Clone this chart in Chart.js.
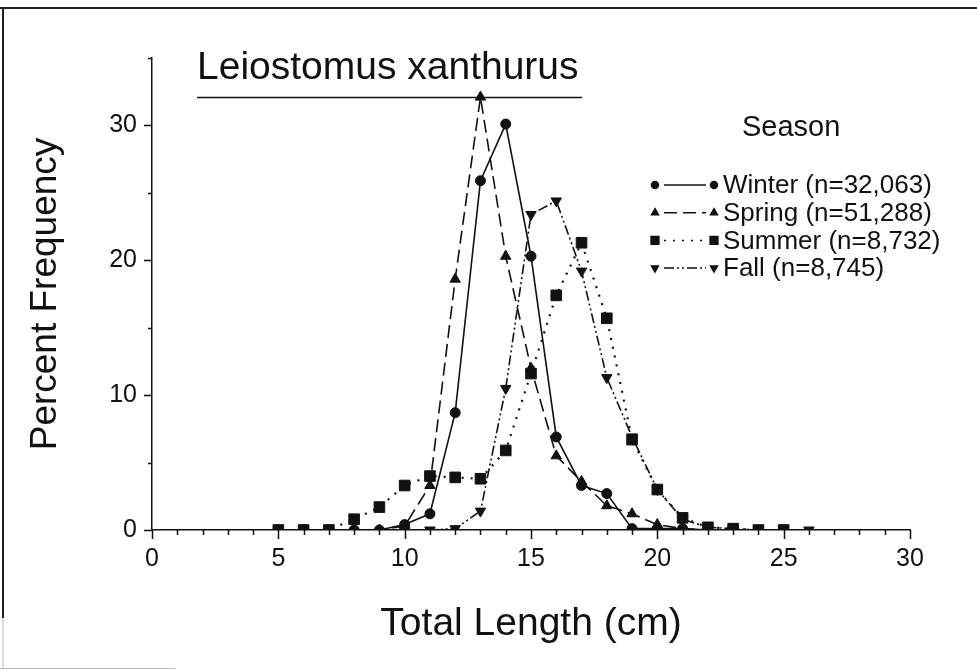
<!DOCTYPE html>
<html>
<head>
<meta charset="utf-8">
<title>Leiostomus xanthurus - length frequency by season</title>
<script src="https://cdn.jsdelivr.net/npm/chart.js@4.4.1/dist/chart.umd.min.js"></script>
<style>
  html, body { margin: 0; padding: 0; background: #fff; }
  #wrap { width: 977px; height: 670px; }
</style>
</head>
<body>
<div id="wrap"><canvas id="lengthChart" width="977" height="670"></canvas></div>
<script>
// Total length classes (cm)
const lengthClasses = [5, 6, 7, 8, 9, 10, 11, 12, 13, 14, 15, 16, 17, 18, 19, 20, 21, 22, 23, 24, 25, 26];

// Percent frequency per season (null = no point plotted)
const winterPct = [0, 0, 0, 0, 0, 0.4, 1.2, 8.7, 25.9, 30.1, 20.3, 6.9, 3.3, 2.7, 0.1, 0.1, 0.1, 0, null, null, null, null];
const springPct = [0, 0, 0, 0, 0, 0.3, 3.3, 18.6, 32.1, 20.3, 12.0, 5.5, 3.6, 1.8, 1.2, 0.4, 0.1, 0, null, null, null, null];
const summerPct = [0, 0, 0, 0.8, 1.7, 3.3, 4.0, 3.9, 3.8, 5.9, 11.6, 17.4, 21.3, 15.7, 6.7, 3.0, 0.9, 0.2, 0.1, 0, 0, null];
const fallPct   = [null, null, null, null, null, 0, 0, 0.1, 1.4, 10.5, 23.4, 24.4, 19.2, 11.3, 6.9, 3.0, 0.8, 0.2, 0.1, 0, 0, 0];

const seasons = ['Winter', 'Spring', 'Summer', 'Fall'];
const sampleSizes = ['32,063', '51,288', '8,732', '8,745'];

const xTickLabels = [0, 5, 10, 15, 20, 25, 30];
const yTickLabels = [0, 10, 20, 30];

const ink = '#111';
const fontFamily = '"Liberation Sans", Arial, sans-serif';

function toPoints(values) {
    return lengthClasses
        .map((len, i) => values[i] === null ? null : { x: len, y: values[i] })
        .filter(p => p !== null);
}

const styles = [
    { dash: [], pointStyle: 'circle', radius: 5, rotation: 0, legendRadius: 3.5 },
    { dash: [13, 6], pointStyle: 'triangle', radius: 6, rotation: 0, legendRadius: 4 },
    { dash: [2, 7], pointStyle: 'rect', radius: 7.5, rotation: 0, legendRadius: 5.5 },
    { dash: [10, 3, 2, 3, 2, 3], pointStyle: 'triangle', radius: 6, rotation: 180, legendRadius: 4 }
];

const seriesValues = [winterPct, springPct, summerPct, fallPct];

const datasets = seriesValues.map((vals, i) => ({
    label: seasons[i] + ' (n=' + sampleSizes[i] + ')',
    data: toPoints(vals),
    borderColor: ink,
    backgroundColor: ink,
    borderWidth: i === 2 ? 2.2 : 1.6,
    borderDash: styles[i].dash,
    pointStyle: styles[i].pointStyle,
    pointRadius: styles[i].radius,
    pointRotation: styles[i].rotation,
    pointBackgroundColor: ink,
    pointBorderColor: ink,
    pointBorderWidth: 1,
    tension: 0,
    fill: false
}));

// Frame, title, custom ticks and legend
const decorations = {
    id: 'decorations',
    beforeDraw(chart) {
        const ctx = chart.ctx;
        ctx.save();
        ctx.fillStyle = '#fff';
        ctx.fillRect(0, 0, chart.width, chart.height);
        ctx.strokeStyle = '#222';
        ctx.lineWidth = 2;
        ctx.beginPath();
        ctx.moveTo(0, 8); ctx.lineTo(977, 8);
        ctx.moveTo(3, 8); ctx.lineTo(3, 618);
        ctx.stroke();
        ctx.strokeStyle = '#bbb';
        ctx.lineWidth = 1;
        ctx.beginPath();
        ctx.moveTo(3, 618); ctx.lineTo(3, 668);
        ctx.moveTo(0, 668.5); ctx.lineTo(175, 668.5);
        ctx.stroke();
        ctx.restore();
    },
    afterDraw(chart) {
        const { ctx, scales: { x, y } } = chart;
        ctx.save();
        ctx.strokeStyle = ink;
        ctx.lineWidth = 1.5;
        ctx.setLineDash([]);

        // x ticks: minor every 1 cm, major every 5 cm
        ctx.beginPath();
        for (let v = x.min; v <= x.max; v += 1) {
            const px = Math.round(x.getPixelForValue(v)) + 0.5;
            const len = v % 5 === 0 ? 9 : 5;
            ctx.moveTo(px, y.bottom);
            ctx.lineTo(px, y.bottom + len);
        }
        // y ticks: minor every 5, major every 10
        for (let v = y.min; v <= y.max; v += 5) {
            const py = Math.round(y.getPixelForValue(v)) + 0.5;
            const len = v % 10 === 0 ? 8 : 4;
            ctx.moveTo(x.left - len, py);
            ctx.lineTo(x.left, py);
        }
        ctx.stroke();

        // title with underline
        ctx.fillStyle = ink;
        ctx.font = '39px ' + fontFamily;
        ctx.textAlign = 'left';
        ctx.textBaseline = 'alphabetic';
        ctx.fillText('Leiostomus xanthurus', 197, 79);
        ctx.beginPath();
        ctx.moveTo(197, 97.5);
        ctx.lineTo(582, 97.5);
        ctx.stroke();

        // legend
        ctx.font = '29px ' + fontFamily;
        ctx.textBaseline = 'middle';
        ctx.fillText('Season', 742, 128);
        ctx.font = '26px ' + fontFamily;
        chart.data.datasets.forEach((ds, i) => {
            const st = styles[i];
            const ly = 185 + i * 27.7;
            ctx.lineWidth = 1.5;
            ctx.setLineDash(st.dash);
            ctx.beginPath();
            ctx.moveTo(664, ly);
            ctx.lineTo(706, ly);
            ctx.stroke();
            ctx.setLineDash([]);
            const opts = { pointStyle: st.pointStyle, radius: st.legendRadius, rotation: st.rotation, borderWidth: 1 };
            Chart.helpers.drawPoint(ctx, opts, 655, ly);
            ctx.fill();
            Chart.helpers.drawPoint(ctx, opts, 714, ly);
            ctx.fill();
            ctx.fillText(ds.label, 723, ly + 1);
        });
        ctx.restore();
    }
};

const chart = new Chart(document.getElementById('lengthChart').getContext('2d'), {
    type: 'line',
    data: { datasets: datasets },
    options: {
        responsive: false,
        animation: false,
        devicePixelRatio: 1,
        layout: { padding: { left: 0, right: 67, top: 58, bottom: 0 } },
        plugins: {
            legend: { display: false },
            title: { display: false },
            tooltip: { enabled: false }
        },
        scales: {
            x: {
                type: 'linear',
                min: 0,
                max: 30,
                afterFit: scale => { scale.height = 140; },
                afterBuildTicks: scale => {
                    scale.ticks = xTickLabels.map(v => ({ value: v }));
                },
                grid: { display: false, drawTicks: false },
                border: { display: true, color: ink, width: 1.5 },
                ticks: {
                    color: ink,
                    padding: 14,
                    autoSkip: false,
                    maxRotation: 0,
                    font: { family: fontFamily, size: 25 }
                },
                title: {
                    display: true,
                    text: 'Total Length (cm)',
                    color: ink,
                    font: { family: fontFamily, size: 39 },
                    padding: { top: 0, bottom: 22 }
                }
            },
            y: {
                min: 0,
                max: 35,
                afterFit: scale => { scale.width = 152; },
                afterBuildTicks: scale => {
                    scale.ticks = yTickLabels.map(v => ({ value: v }));
                },
                grid: { display: false, drawTicks: false },
                border: { display: true, color: ink, width: 1.5 },
                ticks: {
                    color: ink,
                    padding: 15,
                    font: { family: fontFamily, size: 25 }
                },
                title: {
                    display: true,
                    text: 'Percent Frequency',
                    color: ink,
                    font: { family: fontFamily, size: 37 },
                    padding: { top: 24, bottom: 0 }
                }
            }
        }
    },
    plugins: [decorations]
});
</script>
</body>
</html>
